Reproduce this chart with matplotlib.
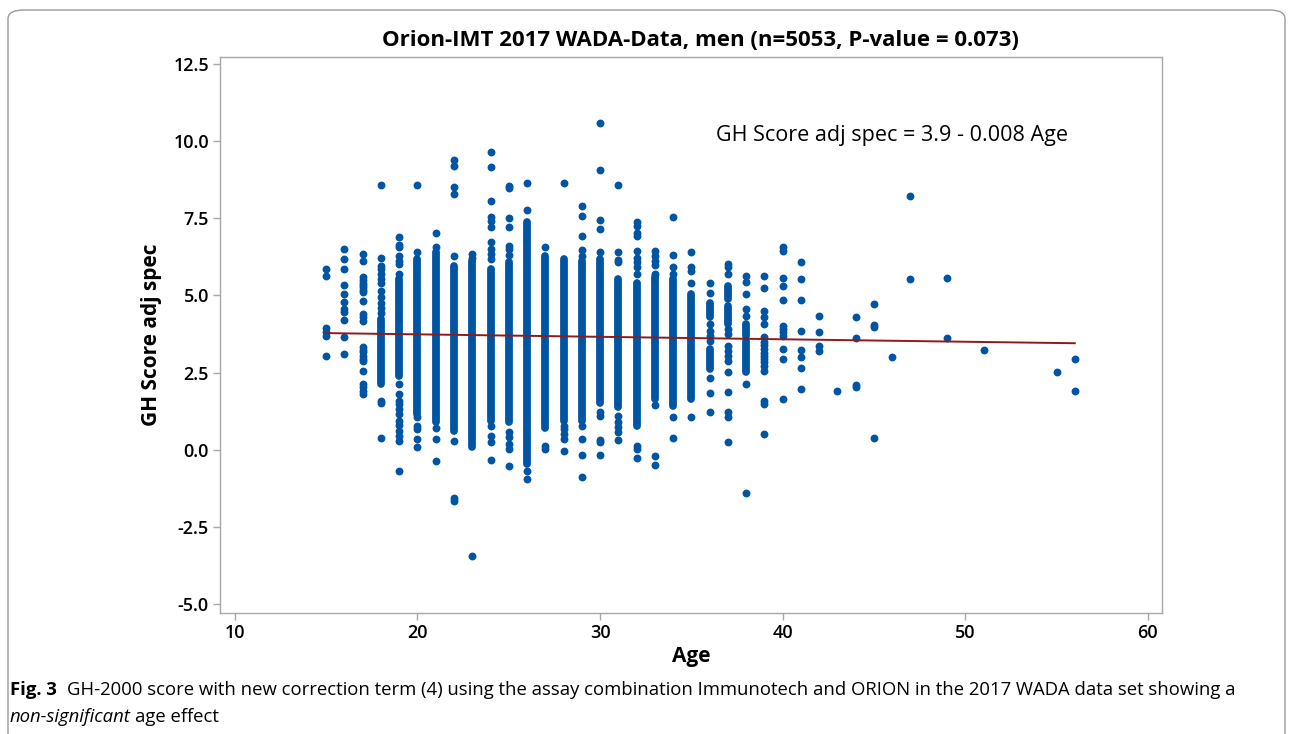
import matplotlib
matplotlib.use("Agg")
import matplotlib.pyplot as plt
from matplotlib.patches import FancyBboxPatch

# Punktdaten: Spalten mit dichten Bereichen (Band) und Einzelpunkte je Alter
band_age = [18, 19, 20, 21, 22, 23, 24, 25, 26, 27, 28, 29, 30, 31, 32, 33, 34, 35,
            36, 36, 37, 37, 38, 38]
band_lo = [2.13, 2.40, 1.16, 0.89, 0.62, 0.08, 0.94, 0.89, -0.47, 0.72, 0.94, 0.94,
           1.53, 1.37, 0.78, 1.64, 1.43, 1.65, 4.29, 2.61, 4.88, 4.07, 3.69, 2.51]
band_hi = [4.24, 5.53, 6.18, 6.40, 5.96, 6.12, 5.86, 6.07, 7.37, 6.29, 6.18, 6.12,
           6.18, 5.53, 5.42, 5.59, 5.53, 5.04, 4.75, 3.26, 5.31, 4.67, 4.07, 3.53]

point_ages = [15, 16, 17, 18, 19, 20, 21, 22, 23, 24, 25, 26, 27, 28, 29, 30, 31, 32,
              33, 34, 35, 36, 37, 38, 39, 40, 41, 42, 43, 44, 45, 46, 47, 49, 51, 55, 56]
point_values = [
    [5.86, 5.62, 3.93, 3.82, 3.69, 3.05],
    [6.50, 6.19, 5.87, 5.35, 5.05, 4.80, 4.56, 4.45, 4.19, 3.67, 3.10],
    [6.34, 6.12, 5.59, 5.50, 5.42, 5.34, 5.26, 5.18, 5.10, 4.83, 4.40, 4.29, 4.18,
     3.32, 3.24, 3.16, 3.05, 2.95, 2.89, 2.56, 2.13, 2.02, 1.90, 1.80],
    [8.59, 6.23, 5.96, 5.86, 5.69, 5.53, 5.42, 5.15, 4.94, 4.77, 4.61, 4.42, 1.58, 1.50, 0.38],
    [6.88, 6.64, 6.56, 6.29, 6.12, 6.02, 5.71, 2.13, 1.80, 1.59, 1.48, 1.32, 1.16, 0.92,
     0.80, 0.62, 0.45, 0.29, -0.70],
    [8.59, 6.40, 1.05, 0.78, 0.67, 0.35, 0.08],
    [7.02, 6.56, 0.70, 0.35, -0.38],
    [9.39, 9.20, 8.52, 8.29, 6.27, 0.29, -1.55, -1.65],
    [6.34, 6.23, -3.43],
    [9.66, 9.15, 8.07, 7.53, 7.42, 7.21, 6.72, 6.50, 6.34, 6.18, 0.78, 0.45, 0.24, -0.32],
    [8.56, 8.48, 7.50, 7.21, 6.61, 6.50, 6.32, 0.56, 0.40, 0.18, 0.02, -0.54],
    [8.66, 7.77, -0.70, -0.95],
    [6.56, 0.13, 0.02],
    [8.66, 0.78, 0.67, 0.51, 0.35, -0.03],
    [7.89, 7.59, 6.92, 6.48, 6.29, 0.78, 0.34, -0.17, -0.87],
    [10.58, 9.06, 7.45, 7.15, 6.40, 1.21, 1.10, 0.33, 0.24, -0.17],
    [8.57, 6.40, 6.15, 6.07, 1.10, 0.90, 0.75, 0.56, 0.31],
    [7.37, 7.26, 7.04, 6.94, 6.45, 6.23, 6.07, 5.91, 5.69, 0.13, 0.02, -0.28],
    [6.45, 6.29, 6.12, 6.00, 5.69, 1.45, -0.19, -0.50],
    [7.54, 6.31, 5.91, 5.69, 1.05, 0.37],
    [6.41, 5.91, 5.80, 5.42, 1.05],
    [5.40, 5.08, 4.07, 3.85, 3.69, 3.53, 2.32, 1.84, 1.21],
    [6.02, 5.91, 5.69, 3.91, 3.75, 3.37, 3.21, 3.05, 2.88, 2.51, 1.88, 1.21, 1.05, 0.26],
    [5.64, 5.45, 5.04, 4.56, 4.34, 2.13, -1.40],
    [5.62, 5.23, 4.50, 4.29, 4.07, 3.64, 3.50, 3.39, 3.26, 3.15, 3.04, 2.94, 2.83, 2.72,
     2.56, 1.59, 1.48, 0.51],
    [6.56, 6.45, 5.55, 5.31, 4.85, 4.02, 3.91, 3.80, 3.69, 3.26, 2.93, 1.66],
    [6.08, 5.53, 4.85, 3.85, 3.24, 3.02, 2.65, 1.98],
    [4.33, 3.80, 3.35, 3.19],
    [1.90],
    [4.30, 3.62, 2.10, 2.04],
    [4.73, 4.04, 3.97, 0.38],
    [3.02],
    [8.21, 5.52],
    [5.55, 3.62],
    [3.24],
    [2.53],
    [2.94, 1.89],
]

# Regressionsgerade: GH Score adj spec = 3.9 - 0.008 Age
fit_intercept = 3.9
fit_slope = -0.008
fit_range = [15, 56]

blue = "#0054A4"
red = "#8E1B1B"

fig = plt.figure(figsize=(12.93, 7.34), dpi=100)
ax = fig.add_axes([0.1701, 0.1649, 0.7285, 0.7575])

# Einzelpunkte
xs, ys = [], []
for age, vals in zip(point_ages, point_values):
    xs += [age] * len(vals)
    ys += vals
ax.scatter(xs, ys, s=32, color=blue, linewidths=0, zorder=3)

# dichte Bereiche als durchgehende Säulen aus Punkten
ax.vlines(band_age, band_lo, band_hi, colors=blue, linewidth=5.6,
          capstyle="round", zorder=3)

# Regressionsgerade
ax.plot(fit_range, [fit_intercept + fit_slope * a for a in fit_range],
        color=red, lw=1.4, zorder=4)

ax.set_xlim(9.18, 60.77)
ax.set_ylim(-5.29, 12.73)
ax.set_xticks([10, 20, 30, 40, 50, 60])
ax.set_yticks([-5, -2.5, 0, 2.5, 5, 7.5, 10, 12.5])
ax.set_yticklabels([f"{v:.1f}" for v in [-5, -2.5, 0, 2.5, 5, 7.5, 10, 12.5]])

for s in ax.spines.values():
    s.set_color("#A8A8A8")
    s.set_linewidth(1.0)
ax.tick_params(colors="#A8A8A8", length=5, width=1.0, labelcolor="black", pad=3)
for lab in ax.get_xticklabels() + ax.get_yticklabels():
    lab.set_fontfamily("Open Sans")
    lab.set_fontweight("semibold")
    lab.set_fontsize(13)

ax.set_xlabel("Age", fontsize=15, fontweight="bold", family="Open Sans", labelpad=3)
ax.set_ylabel("GH Score adj spec", fontsize=15, fontweight="bold", family="Open Sans",
              labelpad=8)

ax.text(0.5265, 0.858, "GH Score adj spec = 3.9 - 0.008 Age", transform=ax.transAxes,
        fontsize=15.5, family="Open Sans", va="center", ha="left")

fig.text(700 / 1293, 1 - 40 / 734, "Orion-IMT 2017 WADA-Data, men (n=5053, P-value = 0.073)",
         ha="center", va="center", fontsize=16, fontweight="bold", family="Open Sans")

# äußerer Rahmen (abgerundet oben)
frame = FancyBboxPatch((8 / 1293, -0.5), 1277 / 1293, 1.5 - 10 / 734,
                       boxstyle="round,pad=0,rounding_size=0.012",
                       transform=fig.transFigure, fill=False, ec="#9A9A9A", lw=1.0)
fig.patches.append(frame)

# Bildunterschrift
fig.canvas.draw()
r = fig.canvas.get_renderer()
y1 = 1 - 690 / 734
y2 = 1 - 717 / 734
t0 = fig.text(10 / 1293, y1, "Fig. 3", fontsize=13.3, fontweight="bold", family="Open Sans",
              va="center")
w0 = t0.get_window_extent(r).width
fig.text((10 + w0 + 10) / 1293, y1,
         "GH-2000 score with new correction term (4) using the assay combination "
         "Immunotech and ORION in the 2017 WADA data set showing a",
         fontsize=13.3, family="Open Sans", va="center")
t1 = fig.text(10 / 1293, y2, "non-significant", fontsize=13.3, style="italic",
              family="Open Sans", va="center")
w1 = t1.get_window_extent(r).width
fig.text((10 + w1 + 4) / 1293, y2, "age effect", fontsize=13.3, family="Open Sans",
         va="center")

fig.savefig("out.png", dpi=100)
